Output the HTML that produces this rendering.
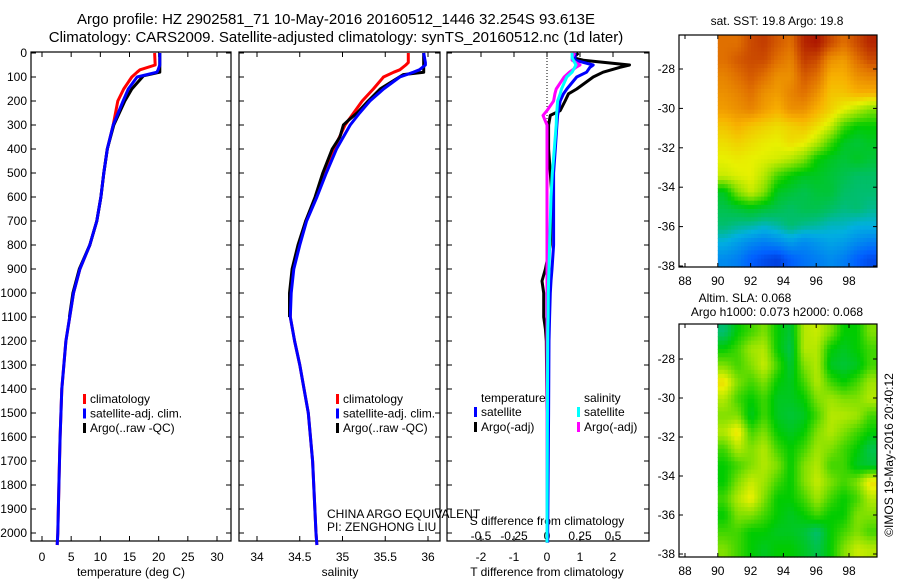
<!DOCTYPE html>
<html><head><meta charset="utf-8"><style>
body{margin:0;background:#fff;}
svg{display:block;font-family:"Liberation Sans",sans-serif;}
text{fill:#000;}
</style></head><body>
<svg id="s" width="900" height="580" viewBox="0 0 900 580">
<text x="336" y="24" font-size="15" text-anchor="middle">Argo profile: HZ 2902581_71 10-May-2016 20160512_1446 32.254S 93.613E</text>
<text x="336" y="42" font-size="15" text-anchor="middle">Climatology: CARS2009. Satellite-adjusted climatology: synTS_20160512.nc (1d later)</text>
<text x="777" y="25" font-size="12" text-anchor="middle">sat. SST: 19.8 Argo: 19.8</text>
<text x="745" y="302" font-size="12" text-anchor="middle">Altim. SLA: 0.068</text>
<text x="777" y="316" font-size="12" text-anchor="middle">Argo h1000: 0.073 h2000: 0.068</text>
<text transform="translate(893,455) rotate(-90)" font-size="12" text-anchor="middle">©IMOS 19-May-2016 20:40:12</text>
<text x="327" y="518" font-size="12">CHINA ARGO EQUIVALENT</text>
<text x="327" y="531" font-size="12">PI: ZENGHONG LIU</text>
<g id="g"></g>
</svg>
<script>
// ---- profile data ----
const tDepth = [0,50,70,80,100,150,200,300,400,500,600,700,800,900,1000,1200,1400,1600,1800,2000,2050];
const tClim = [19.3,19.4,16.8,16.3,15.4,14.0,13.0,12.2,11.2,10.6,10.1,9.4,8.2,6.5,5.4,4.1,3.4,3.1,2.9,2.7,2.6];
const tSat = [20.2,20.2,19.9,19.7,16.3,14.8,13.9,12.2,11.2,10.6,10.1,9.4,8.2,6.5,5.4,4.1,3.4,3.1,2.9,2.7,2.6];
const tArgoDepth = [0,50,80,95,150,200,300,400,500,600,700,800,900,1000,1100];
const tArgo = [20.2,20.2,20.2,17.4,15.4,14.2,12.3,11.2,10.6,10.1,9.4,8.2,6.4,5.3,4.7];
const sDepth = [0,40,50,70,80,100,150,200,250,300,400,500,600,700,800,900,1000,1100,1200,1300,1500,1700,2000,2050];
const sClim = [35.77,35.77,35.74,35.67,35.6,35.48,35.36,35.23,35.13,35.03,34.9,34.78,34.69,34.57,34.49,34.42,34.39,34.39,34.44,34.5,34.6,34.65,34.69,34.7];
const sSat = [35.95,35.97,35.97,35.9,35.83,35.67,35.48,35.32,35.2,35.09,34.93,34.81,34.7,34.58,34.5,34.43,34.4,34.39,34.44,34.5,34.6,34.65,34.69,34.7];
const sArgoDepth = [0,80,90,150,200,250,280,300,350,400,500,600,700,800,900,1000,1100];
const sArgo = [35.95,35.95,35.71,35.44,35.3,35.17,35.07,35.01,34.97,34.88,34.77,34.68,34.57,34.48,34.41,34.38,34.38];
const dDepth = [0,20,30,50,60,80,100,150,170,200,240,260,300,400,500,600,800,900,950,1000,1100,1150,1200,1500,2000,2040];
const dTArgo = [0.95,0.8,1.1,2.5,2.2,1.7,1.4,0.9,0.65,0.55,0.4,0.1,0.05,0.05,0.1,0.15,0.1,-0.05,-0.15,-0.1,-0.1,-0.05,-0.02,0,0,0];
const dTSat = [0.85,0.85,0.85,1.4,1.3,1.2,0.9,0.6,0.5,0.4,0.35,0.32,0.3,0.25,0.2,0.2,0.2,0.15,0.12,0.1,0.08,0.07,0.06,0.05,0.02,0.02];
const dSArgo = [0.21,0.19,0.19,0.25,0.22,0.17,0.13,0.07,0.06,0.05,0.0,-0.03,0.0,0.0,0.0,0.0,0.0,0.0,0.0,0.0,0.0,0.0,0.0,0.0,0.0,0.0];
const dSSat = [0.19,0.19,0.2,0.22,0.21,0.19,0.15,0.11,0.1,0.08,0.075,0.072,0.07,0.055,0.04,0.03,0.02,0.015,0.012,0.01,0.008,0.006,0.005,0.003,0.0,0.0];
const depthTicks = [0,100,200,300,400,500,600,700,800,900,1000,1100,1200,1300,1400,1500,1600,1700,1800,1900,2000];
const tTicks = [0,5,10,15,20,25,30];
const sTicks = [34,34.5,35,35.5,36];
const sTickLabels = ["34","34.5","35","35.5","36"];
const dtTicks = [-2,-1,0,1,2];
const dsTicks = [-0.5,-0.25,0,0.25,0.5];
const dsTickLabels = ["-0.5","-0.25","0","0.25","0.5"];
// ---- map data (0=cold/low,1=warm/high) ----
const sstGrid = [
[0.85,0.85,0.9,0.92,0.88,0.85,0.95,0.97,0.9,0.85,0.9,0.95],
[0.85,0.88,0.9,0.9,0.85,0.82,0.92,0.9,0.8,0.78,0.85,0.9],
[0.82,0.85,0.88,0.85,0.8,0.8,0.88,0.85,0.75,0.75,0.8,0.82],
[0.8,0.82,0.85,0.8,0.78,0.82,0.85,0.8,0.72,0.72,0.75,0.75],
[0.78,0.8,0.82,0.78,0.75,0.8,0.8,0.75,0.7,0.65,0.6,0.55],
[0.72,0.75,0.72,0.7,0.68,0.7,0.72,0.68,0.62,0.5,0.45,0.45],
[0.68,0.7,0.68,0.66,0.65,0.68,0.66,0.6,0.5,0.42,0.4,0.42],
[0.65,0.66,0.65,0.64,0.63,0.6,0.55,0.45,0.42,0.4,0.42,0.4],
[0.62,0.64,0.65,0.6,0.5,0.45,0.42,0.42,0.4,0.38,0.36,0.36],
[0.42,0.55,0.62,0.55,0.42,0.4,0.38,0.4,0.4,0.36,0.35,0.35],
[0.38,0.4,0.42,0.4,0.38,0.36,0.38,0.38,0.36,0.34,0.35,0.33],
[0.35,0.33,0.32,0.3,0.32,0.35,0.33,0.32,0.3,0.3,0.28,0.28],
[0.28,0.25,0.22,0.2,0.22,0.25,0.22,0.24,0.26,0.25,0.22,0.2],
[0.22,0.2,0.15,0.12,0.1,0.15,0.18,0.2,0.22,0.2,0.15,0.12]];
const slaGrid = [
[0.35,0.45,0.5,0.55,0.45,0.4,0.6,0.62,0.55,0.45,0.45,0.55],
[0.45,0.5,0.58,0.6,0.45,0.38,0.6,0.6,0.45,0.42,0.45,0.5],
[0.55,0.5,0.55,0.62,0.5,0.4,0.55,0.6,0.42,0.4,0.42,0.5],
[0.68,0.55,0.5,0.55,0.45,0.42,0.5,0.6,0.5,0.45,0.5,0.58],
[0.6,0.5,0.45,0.5,0.42,0.42,0.45,0.55,0.58,0.55,0.55,0.6],
[0.55,0.55,0.42,0.5,0.42,0.4,0.42,0.5,0.6,0.6,0.58,0.5],
[0.6,0.68,0.5,0.55,0.45,0.42,0.45,0.55,0.6,0.55,0.5,0.45],
[0.5,0.6,0.55,0.6,0.5,0.45,0.5,0.58,0.55,0.5,0.45,0.38],
[0.45,0.5,0.55,0.6,0.55,0.45,0.55,0.6,0.5,0.5,0.42,0.4],
[0.45,0.55,0.62,0.58,0.5,0.45,0.55,0.62,0.55,0.5,0.55,0.68],
[0.5,0.6,0.66,0.55,0.45,0.45,0.5,0.58,0.5,0.45,0.5,0.6],
[0.45,0.55,0.55,0.5,0.45,0.42,0.45,0.5,0.45,0.45,0.55,0.55],
[0.5,0.5,0.45,0.45,0.42,0.42,0.4,0.35,0.45,0.5,0.55,0.5],
[0.55,0.5,0.45,0.42,0.45,0.45,0.42,0.38,0.45,0.55,0.62,0.6]];
const lonTicks = [88,90,92,94,96,98];
const latTicks = [-28,-30,-32,-34,-36,-38];

const NS='http://www.w3.org/2000/svg';
const G=document.getElementById('g');
function el(tag,attrs,parent){const e=document.createElementNS(NS,tag);for(const k in attrs)e.setAttribute(k,attrs[k]);(parent||G).appendChild(e);return e;}
function txt(x,y,s,anchor,size,name){const t=el('text',{x:x,y:y,'font-size':size||12,'text-anchor':anchor||'middle'});t.textContent=s;


return t;}
const Y0=53, YP=0.24;
const yD=d=>Y0+d*YP;
const PT=52, PB=541;
function lin(v0,p0,v1,p1){return v=>p0+(v-v0)*(p1-p0)/(v1-v0);}
const xT=lin(0,42,30,217), xS=lin(34,257,36,428), xDT=lin(0,547,1,580), xDS=lin(0,547,0.25,580);
function panel(x0,x1,name){const r=el('rect',{x:x0,y:PT,width:x1-x0,height:PB-PT,fill:'none',stroke:'#000','stroke-width':1.2});


depthTicks.forEach(d=>{el('line',{x1:x0,x2:x0+5,y1:yD(d),y2:yD(d),stroke:'#000'});el('line',{x1:x1-5,x2:x1,y1:yD(d),y2:yD(d),stroke:'#000'});});}
panel(31,231,'temperature-panel');panel(239,440,'salinity-panel');panel(447,649,'difference-panel');
depthTicks.forEach(d=>txt(27,yD(d)+4,String(d),'end',12,'depth-tick-label'));
function xticks(vals,labels,f,y,ly,name,top){vals.forEach((v,i)=>{const x=f(v);el('line',{x1:x,x2:x,y1:PB,y2:PB-5,stroke:'#000'});if(top)el('line',{x1:x,x2:x,y1:PT,y2:PT+5,stroke:'#000'});txt(x,ly,labels[i],'middle',12,name);});}
xticks(tTicks,tTicks.map(String),xT,0,561,'temperature-tick-label',true);
xticks(sTicks,sTickLabels,xS,0,561,'salinity-tick-label',true);
xticks(dtTicks,dtTicks.map(String),xDT,0,561,'t-diff-tick-label',true);
dsTicks.forEach((v,i)=>txt(xDS(v),540,dsTickLabels[i],'middle',12,'s-diff-tick-label'));
txt(131,576,'temperature (deg C)','middle',12,'temperature-axis-title');
txt(340,576,'salinity','middle',12,'salinity-axis-title');
txt(547,576,'T difference from climatology','middle',12,'t-diff-axis-title');
txt(547,525,'S difference from climatology','middle',12,'s-diff-axis-title');
el('line',{x1:547,x2:547,y1:PT,y2:PB,stroke:'#000','stroke-dasharray':'1,2','stroke-width':1});
function line(depths,vals,f,color,name){const p=depths.map((d,i)=>f(vals[i]).toFixed(1)+','+yD(d).toFixed(1)).join(' ');
const l=el('polyline',{points:p,fill:'none',stroke:color,'stroke-width':3,'stroke-linejoin':'round'});

}
line(tDepth,tClim,xT,'#f00','temp-climatology-line');
line(tArgoDepth,tArgo,xT,'#000','temp-argo-line');
line(tDepth,tSat,xT,'#00f','temp-satellite-line');
line(sDepth,sClim,xS,'#f00','sal-climatology-line');
line(sArgoDepth,sArgo,xS,'#000','sal-argo-line');
line(sDepth,sSat,xS,'#00f','sal-satellite-line');
line(dDepth,dTArgo,xDT,'#000','t-diff-argo-line');
line(dDepth,dTSat,xDT,'#00f','t-diff-satellite-line');
line(dDepth,dSArgo,xDS,'#f0f','s-diff-argo-line');
line(dDepth,dSSat,xDS,'#0ff','s-diff-satellite-line');
function leg(x,y,color,label,name){if(color)el('rect',{x:x-7,y:y-9,width:3,height:10,fill:color});txt(x,y,label,'start',12,name);}
[[90,'#f00','climatology'],[90,'#00f','satellite-adj. clim.'],[90,'#000','Argo(..raw -QC)']].forEach((a,i)=>leg(a[0],403+i*14.5,a[1],a[2],'temp-legend-entry'));
[[343,'#f00','climatology'],[343,'#00f','satellite-adj. clim.'],[343,'#000','Argo(..raw -QC)']].forEach((a,i)=>leg(a[0],403+i*14.5,a[1],a[2],'sal-legend-entry'));
leg(481,402,null,'temperature','diff-legend-header');leg(481,416,'#00f','satellite','diff-legend-entry');leg(481,431,'#000','Argo(-adj)','diff-legend-entry');
leg(584,402,null,'salinity','diff-legend-header');leg(584,416,'#0ff','satellite','diff-legend-entry');leg(584,431,'#f0f','Argo(-adj)','diff-legend-entry');
const stops=[[0,[0,0,160]],[0.15,[0,96,255]],[0.28,[0,176,224]],[0.35,[0,190,110]],[0.45,[0,204,0]],[0.55,[128,224,0]],[0.65,[232,240,0]],[0.75,[248,176,0]],[0.85,[224,112,0]],[1,[160,0,0]]];
function cmap(v){v=Math.max(0,Math.min(1,v));for(let i=1;i<stops.length;i++){if(v<=stops[i][0]){const a=stops[i-1],b=stops[i],t=(v-a[0])/(b[0]-a[0]);return 'rgb('+a[1].map((c,k)=>Math.round(c+(b[1][k]-c)*t)).join(',')+')';}}return 'rgb(160,0,0)';}
function sample(grid,fr,fc){const nr=grid.length,nc=grid[0].length;
 let r=Math.max(0,Math.min(nr-1,fr-0.5)),c=Math.max(0,Math.min(nc-1,fc-0.5));
 const r0=Math.floor(r),c0=Math.floor(c),r1=Math.min(nr-1,r0+1),c1=Math.min(nc-1,c0+1),tr=r-r0,tc=c-c0;
 return grid[r0][c0]*(1-tr)*(1-tc)+grid[r0][c1]*(1-tr)*tc+grid[r1][c0]*tr*(1-tc)+grid[r1][c1]*tr*tc;}
function map(grid,top,bot,latTopY,latBotY,name){
 const xL=lin(88,685,98,849);const yL=lin(-28,latTopY,-38,latBotY);
 const lonMin=90,lonMax=99.7;
 const topLat=-28+(top-latTopY)*(-10)/(latBotY-latTopY), botLat=-28+(bot-latTopY)*(-10)/(latBotY-latTopY);
 const nr=grid.length,nc=grid[0].length,SUB=4,dLon=(lonMax-lonMin)/(nc*SUB),dLat=(topLat-botLat)/(nr*SUB);
 for(let r=0;r<nr*SUB;r++)for(let c=0;c<nc*SUB;c++){
  const v=sample(grid,(r+0.5)/SUB,(c+0.5)/SUB);
  const x0=xL(lonMin+c*dLon),x1=xL(lonMin+(c+1)*dLon),y0=yL(topLat-r*dLat),y1=yL(topLat-(r+1)*dLat);
  const cell=el('rect',{x:x0.toFixed(1),y:y0.toFixed(1),width:(x1-x0+0.6).toFixed(1),height:(y1-y0+0.6).toFixed(1),fill:cmap(v)});
  
  }
 const b=el('rect',{x:679,y:top,width:198,height:bot-top,fill:'none',stroke:'#000','stroke-width':1.2});
 
 
 lonTicks.forEach(l=>{const x=xL(l);el('line',{x1:x,x2:x,y1:bot,y2:bot-4,stroke:'#000'});el('line',{x1:x,x2:x,y1:top,y2:top+4,stroke:'#000'});txt(x,bot+18,String(l),'middle',12,name+'-lon-label');});
 latTicks.forEach(l=>{const y=yL(l);el('line',{x1:679,x2:683,y1:y,y2:y,stroke:'#000'});el('line',{x1:873,x2:877,y1:y,y2:y,stroke:'#000'});txt(675,y+4,String(l),'end',12,name+'-lat-label');});
}
map(sstGrid,35,267,69,266,'sst-map');
map(slaGrid,324,557,359,554,'sla-map');
</script>
</body></html>
